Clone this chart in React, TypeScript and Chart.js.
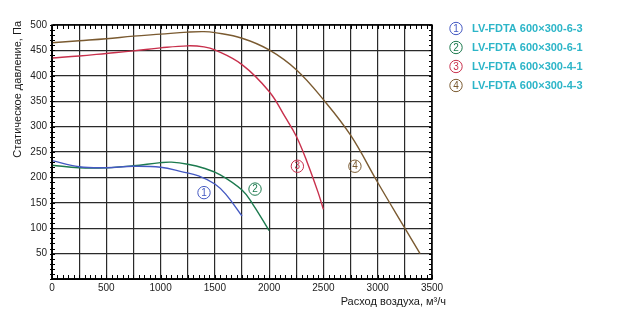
import React, { useEffect, useRef } from "react";
import { Chart, registerables } from "chart.js";

Chart.register(...registerables);

const seriesNames = [
  "LV-FDTA 600×300-6-3",
  "LV-FDTA 600×300-6-1",
  "LV-FDTA 600×300-4-1",
  "LV-FDTA 600×300-4-3",
];
const seriesColors = ["#4459c2", "#1c7a4e", "#c8304c", "#7a5a30"];

const s1x = [0, 250, 500, 750, 1000, 1200, 1350, 1500, 1600, 1750];
const s1y = [233, 221, 219, 222, 220, 211, 203, 187, 167, 124];

const s2x = [0, 250, 500, 750, 1000, 1100, 1250, 1400, 1550, 1750, 1850, 2000];
const s2y = [224, 219, 219, 223, 229, 230, 226, 218, 205, 175, 147, 95];

const s3x = [0, 250, 500, 750, 1000, 1250, 1400, 1500, 1750, 2000, 2150, 2250, 2350, 2450, 2500];
const s3y = [435, 439, 444, 449, 455, 459, 457, 451, 422, 369, 318, 281, 230, 171, 137];

const s4x = [0, 250, 500, 750, 1000, 1250, 1400, 1500, 1750, 2000, 2250, 2500, 2750, 3000, 3250, 3390];
const s4y = [465, 469, 473, 478, 482, 486, 487, 485, 474, 451, 412, 353, 283, 190, 100, 50];

const labelX = [1400, 1870, 2260, 2790];
const labelY = [170, 177, 222, 222];
const labelText = ["1", "2", "3", "4"];

const xTicks = { min: 0, max: 3500, grid: 250, label: 500, minor: 50 };
const yTicks = { min: 0, max: 500, grid: 50, minor: 10 };

const xTitle = "Расход воздуха, м³/ч";
const yTitle = "Статическое давление, Па";

const FONT = "'Liberation Sans', Arial, sans-serif";

function circled(ctx: CanvasRenderingContext2D, cx: number, cy: number, txt: string, color: string) {
  ctx.save();
  ctx.strokeStyle = color;
  ctx.lineWidth = 1;
  ctx.beginPath();
  ctx.arc(cx, cy, 6.2, 0, Math.PI * 2);
  ctx.stroke();
  ctx.fillStyle = color;
  ctx.font = `10px ${FONT}`;
  ctx.textAlign = "center";
  ctx.textBaseline = "middle";
  ctx.fillText(txt, cx, cy + 0.5);
  ctx.restore();
}

const decorPlugin = {
  id: "decor",
  afterDraw(chart: any) {
    const ctx: CanvasRenderingContext2D = chart.ctx;
    const xs = chart.scales.x;
    const ys = chart.scales.y;
    const { left, right, top, bottom } = chart.chartArea;
    ctx.save();
    ctx.strokeStyle = "#000";
    ctx.lineWidth = 1;
    ctx.beginPath();
    for (let v = xTicks.min; v <= xTicks.max; v += xTicks.minor) {
      const p = Math.round(xs.getPixelForValue(v)) + 0.5;
      ctx.moveTo(p, bottom);
      ctx.lineTo(p, bottom - 4);
      ctx.moveTo(p, top);
      ctx.lineTo(p, top + 4);
    }
    for (let v = yTicks.min; v <= yTicks.max; v += yTicks.minor) {
      const p = Math.round(ys.getPixelForValue(v)) + 0.5;
      ctx.moveTo(left - 2, p);
      ctx.lineTo(left + 3, p);
      ctx.moveTo(right, p);
      ctx.lineTo(right - 3, p);
    }
    ctx.stroke();
    ctx.strokeStyle = "#000";
    ctx.lineWidth = 1.5;
    ctx.strokeRect(Math.round(left), Math.round(top), Math.round(right - left), Math.round(bottom - top));

    for (let i = 0; i < labelX.length; i++) {
      circled(ctx, xs.getPixelForValue(labelX[i]), ys.getPixelForValue(labelY[i]), labelText[i], seriesColors[i]);
    }

    for (let i = 0; i < seriesNames.length; i++) {
      const cy = 28.5 + i * 19;
      circled(ctx, 456, cy, labelText[i], seriesColors[i]);
      ctx.fillStyle = "#2cb5c8";
      ctx.font = `bold 11px ${FONT}`;
      ctx.textAlign = "left";
      ctx.textBaseline = "middle";
      ctx.fillText(seriesNames[i], 472, cy + 0.5);
    }

    ctx.fillStyle = "#1a1a1a";
    ctx.font = `11px ${FONT}`;
    ctx.textAlign = "right";
    ctx.textBaseline = "middle";
    ctx.fillText(xTitle, 446, 302);

    ctx.translate(18, 21);
    ctx.rotate(-Math.PI / 2);
    ctx.textAlign = "right";
    ctx.textBaseline = "middle";
    ctx.fillText(yTitle, 0, 0);
    ctx.restore();
  },
};

function toPoints(xs: number[], ys: number[]) {
  return xs.map((x, i) => ({ x, y: ys[i] }));
}

export default function App() {
  const ref = useRef<HTMLCanvasElement | null>(null);
  useEffect(() => {
    if (!ref.current) return;
    const allX = [s1x, s2x, s3x, s4x];
    const allY = [s1y, s2y, s3y, s4y];
    const chart = new Chart(ref.current, {
      type: "line",
      data: {
        datasets: allX.map((xs, i) => ({
          label: seriesNames[i],
          data: toPoints(xs, allY[i]),
          borderColor: seriesColors[i],
          borderWidth: 1.4,
          pointRadius: 0,
          fill: false,
          tension: 0.4,
        })),
      },
      options: {
        responsive: false,
        maintainAspectRatio: false,
        animation: false,
        layout: { padding: { top: 25, right: 202, left: 0, bottom: 0 } },
        plugins: { legend: { display: false }, tooltip: { enabled: false } },
        scales: {
          x: {
            type: "linear",
            min: xTicks.min,
            max: xTicks.max,
            ticks: {
              stepSize: xTicks.grid,
              autoSkip: false,
              maxRotation: 0,
              padding: 3,
              color: "#222",
              font: { size: 10, family: FONT },
              callback: (v: any) => (Number(v) % xTicks.label === 0 ? String(v) : ""),
            },
            grid: { color: "#2a2a2a", lineWidth: 1.2, drawTicks: false },
            border: { display: true, color: "#000" },
            afterFit: (s: any) => {
              s.height = 42;
            },
          },
          y: {
            min: yTicks.min,
            max: yTicks.max,
            ticks: {
              stepSize: yTicks.grid,
              padding: 5,
              color: "#222",
              font: { size: 10, family: FONT },
              callback: (v: any) => (Number(v) === 0 ? "" : String(v)),
            },
            grid: { color: "#2a2a2a", lineWidth: 1.2, drawTicks: false },
            border: { display: true, color: "#000" },
            afterFit: (s: any) => {
              s.width = 52;
            },
          },
        },
      },
      plugins: [decorPlugin],
    });
    return () => chart.destroy();
  }, []);
  return (
    <div style={{ position: "fixed", left: 0, top: 0, width: 634, height: 321, background: "#fff" }}>
      <canvas ref={ref} width={634} height={321} style={{ width: 634, height: 321 }} />
    </div>
  );
}
